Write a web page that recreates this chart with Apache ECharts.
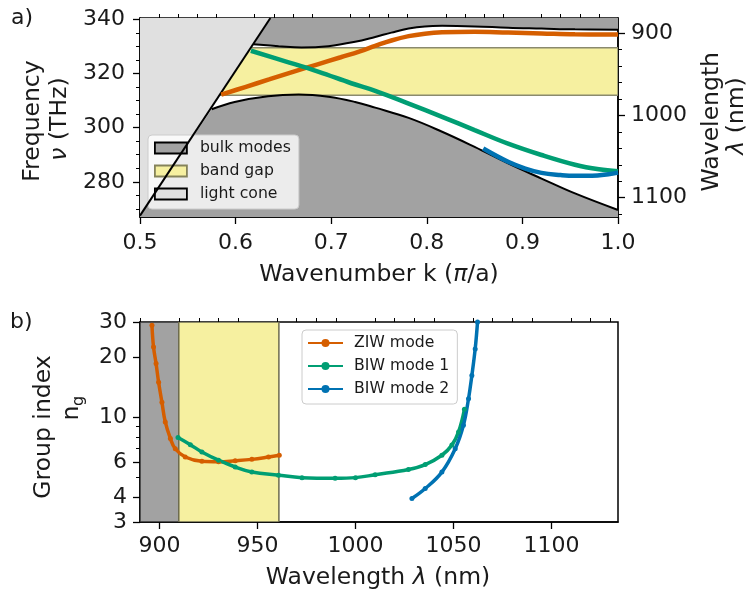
<!DOCTYPE html>
<html><head><meta charset="utf-8">
<script src="https://cdn.jsdelivr.net/npm/echarts@6/dist/echarts.min.js"></script>
<style>html,body{margin:0;padding:0;background:#fff}#c{width:749px;height:597px}</style>
</head><body><div id="c"></div>
<script>
// ---------- data: panel a (k in pi/a, frequency in THz) ----------
const lightLine = [[0.5, 267.5], [0.6364, 340.5]];
const upperBulkEdge = [[0.6185,330.8],[0.645,330.1],[0.669,329.6],[0.697,330.1],[0.725,331.7],[0.746,333.5],[0.763,335.1],[0.781,336.6],[0.798,337.4],[0.816,337.6],[0.85,337.4],[0.885,336.9],[0.92,336.6],[0.955,336.3],[1.0,336.2]];
const lowerBulkEdge = [[0.5,267.5],[0.575,306.8],[0.599,309.5],[0.634,311.6],[0.666,312.2],[0.697,311.4],[0.725,309.5],[0.746,307.4],[0.781,303.6],[0.816,298.5],[0.85,292.9],[0.885,286.8],[0.92,281.2],[0.955,275.7],[1.0,269.6]];
const bandGap = [312.0, 329.5];
const ziwBand = [[0.585,312.2],[0.61,315.0],[0.635,317.8],[0.66,320.6],[0.685,323.3],[0.71,326.0],[0.73,328.2],[0.746,330.2],[0.763,332.2],[0.781,333.8],[0.798,334.7],[0.816,335.2],[0.85,335.4],[0.885,335.1],[0.92,334.8],[0.955,334.5],[1.0,334.4]];
const biw1Band = [[0.616,328.4],[0.652,324.5],[0.687,320.6],[0.721,316.4],[0.746,313.6],[0.781,308.9],[0.816,304.0],[0.85,299.1],[0.885,294.1],[0.92,289.9],[0.955,286.3],[0.98,284.6],[1.0,283.9]];
const biw2Band = [[0.859,292.3],[0.885,287.4],[0.903,284.9],[0.92,283.3],[0.94,282.5],[0.955,282.2],[0.973,282.2],[0.99,282.8],[1.0,283.4]];
// ---------- data: panel b (wavelength nm, group index) ----------
const bulkRangeNm = [890, 909.8];
const gapRangeNm = [909.8, 960.9];
const ziwNg = [[896.1,28.9],[896.9,22.5],[898.2,18.6],[899.5,15.0],[901.2,11.9],[902.9,9.49],[905.5,7.85],[908,6.97],[913.1,6.34],[921.6,6.03],[930.1,6.0],[938.6,6.07],[947.1,6.17],[955.6,6.34],[961.1,6.47]];
const biw1Ng = [[909.4,7.94],[915.7,7.31],[921.6,6.72],[930.1,6.11],[938.6,5.65],[947.1,5.33],[960.7,5.14],[972.7,5.0],[989.6,4.96],[1000,5.0],[1010,5.17],[1027,5.49],[1035.6,5.81],[1044.1,6.47],[1049.2,7.27],[1052.6,8.46],[1055.6,10.98]];
const biw2Ng = [[1028.8,3.93],[1035.6,4.41],[1044.1,5.33],[1050.9,6.97],[1055.1,9.14],[1057.7,12.4],[1059.4,16.2],[1061.1,22.0],[1062.3,30]];
// ---------- ticks ----------
const kMajor = [0.5,0.6,0.7,0.8,0.9,1.0];
const kMinor = [0.52,0.54,0.56,0.58,0.62,0.64,0.66,0.68,0.72,0.74,0.76,0.78,0.82,0.84,0.86,0.88,0.92,0.94,0.96,0.98];
const nuMajor = [280,300,320,340];
const nuMinor = [270,275,285,290,295,305,310,315,325,330,335];
const wlTopMajor = [900,1000,1100];
const wlTopMinor = [920,940,960,980,1020,1040,1060,1080,1120];
const wlMajor = [900,950,1000,1050,1100];
const wlMinor = [890,910,920,930,940,960,970,980,990,1010,1020,1030,1040,1060,1070,1080,1090,1110,1120,1130];
const ngMajor = [3,4,6,10,20,30];
const ngMinor = [5,7,8,9];

const K = [0.5, 1.0], NU = [267, 340.5], WLT = [881.5, 1123.5], WL = [890, 1134], NG = [3, 30];
const FONT = 'DejaVu Sans', TXT = '#1a1a1a';
const C_ORANGE = '#d55e00', C_GREEN = '#009e73', C_BLUE = '#0072b2';
const C_BULK = '#a2a2a2', C_GAP = '#f6f0a0', C_CONE = '#e0e0e0';
const TF = '23.5px "DejaVu Sans"';

function poly(name, pts, fill, z, stroke, lw, xi, yi) {
  return { type: 'custom', name: name, xAxisIndex: xi, yAxisIndex: yi, z: z, clip: true, silent: true,
    data: [pts[0]],
    renderItem: function (params, api) {
      return { type: 'polygon', shape: { points: pts.map(function (p) { return api.coord(p); }) },
        style: { fill: fill, stroke: stroke || 'none', lineWidth: lw || 0 } };
    } };
}
function edge(pts, color, w, z, xi, yi) {
  return { type: 'line', data: pts, xAxisIndex: xi, yAxisIndex: yi, z: z, showSymbol: false, silent: true,
    smooth: 0.4, lineStyle: { color: color, width: w }, itemStyle: { color: color } };
}
function mode(name, pts, color, xi, yi, sym, w) {
  return { type: 'line', name: name, data: pts, xAxisIndex: xi, yAxisIndex: yi, z: 6, smooth: 0.4,
    showSymbol: sym, symbol: 'circle', symbolSize: 5, lineStyle: { color: color, width: w }, itemStyle: { color: color } };
}
const lab = { fontFamily: FONT, fontSize: 22, color: TXT, formatter: function (v) { return String(Math.round(v * 1000) / 1000); } };
function axis(o) {
  return Object.assign({ type: 'value', splitLine: { show: false },
    axisLine: { show: true, lineStyle: { color: '#000', width: 1.5 } } }, o);
}
function txt(x, y, s, rot, font, rich) {
  const st = { text: s, font: font || TF, fill: TXT, align: 'center', verticalAlign: 'middle', textAlign: 'center', textVerticalAlign: 'middle' };
  if (rich) st.rich = { i: { fontStyle: 'italic', font: 'italic ' + (font || TF), fill: TXT } };
  return { type: 'text', x: x, y: y, rotation: rot ? Math.PI / 2 : 0, style: st };
}

const topPolys = [
  [[upperBulkEdge[0][0], NU[1]]].concat(upperBulkEdge).concat([[K[1], NU[1]]]),
  lowerBulkEdge.concat([[K[1], NU[0]], [K[0], NU[0]]]),
  [[K[0], bandGap[0]], [K[1], bandGap[0]], [K[1], bandGap[1]], [K[0], bandGap[1]]],
  lightLine.concat([[K[0], NU[1]]])
];

const option = {
  animation: false,
  backgroundColor: '#fff',
  grid: [
    { left: 140, top: 18, width: 478, height: 199, show: true, borderColor: '#000', borderWidth: 1.5, backgroundColor: 'transparent' },
    { left: 140, top: 322, width: 478, height: 200, show: true, borderColor: '#000', borderWidth: 1.5, backgroundColor: 'transparent' }
  ],
  xAxis: [
    axis({ gridIndex: 0, min: K[0], max: K[1], axisTick: { customValues: kMajor, length: 7, lineStyle: { width: 1.3, color: '#000' } },
      axisLabel: Object.assign({}, lab, { customValues: kMajor, margin: 15, formatter: function (v) { return v.toFixed(1); } }) }),
    axis({ gridIndex: 0, min: K[0], max: K[1], axisLine: { show: false }, axisLabel: { show: false },
      axisTick: { customValues: kMinor, length: 4, lineStyle: { width: 1, color: '#000' } } }),
    axis({ gridIndex: 1, min: WL[0], max: WL[1], axisTick: { customValues: wlMajor, length: 7, lineStyle: { width: 1.3, color: '#000' } },
      axisLabel: Object.assign({}, lab, { customValues: wlMajor, margin: 13 }) }),
    axis({ gridIndex: 1, min: WL[0], max: WL[1], axisLine: { show: false }, axisLabel: { show: false },
      axisTick: { customValues: wlMinor, length: 4, lineStyle: { width: 1, color: '#000' } } })
  ],
  yAxis: [
    axis({ gridIndex: 0, min: NU[0], max: NU[1], position: 'left', axisTick: { customValues: nuMajor, length: 7, lineStyle: { width: 1.3, color: '#000' } },
      axisLabel: Object.assign({}, lab, { customValues: nuMajor, margin: 15 }) }),
    axis({ gridIndex: 0, min: NU[0], max: NU[1], position: 'left', axisLine: { show: false }, axisLabel: { show: false },
      axisTick: { customValues: nuMinor, length: 4, lineStyle: { width: 1, color: '#000' } } }),
    axis({ gridIndex: 0, min: WLT[0], max: WLT[1], inverse: true, position: 'right', axisTick: { customValues: wlTopMajor, length: 7, lineStyle: { width: 1.3, color: '#000' } },
      axisLabel: Object.assign({}, lab, { customValues: wlTopMajor, margin: 13 }) }),
    axis({ gridIndex: 0, min: WLT[0], max: WLT[1], inverse: true, position: 'right', axisLine: { show: false }, axisLabel: { show: false },
      axisTick: { customValues: wlTopMinor, length: 4, lineStyle: { width: 1, color: '#000' } } }),
    axis({ type: 'log', logBase: 10, gridIndex: 1, min: NG[0], max: NG[1], position: 'left', axisTick: { customValues: ngMajor, length: 7, lineStyle: { width: 1.3, color: '#000' } },
      axisLabel: Object.assign({}, lab, { customValues: ngMajor, margin: 13 }) }),
    axis({ type: 'log', logBase: 10, gridIndex: 1, min: NG[0], max: NG[1], position: 'left', axisLine: { show: false }, axisLabel: { show: false },
      axisTick: { customValues: ngMinor, length: 4, lineStyle: { width: 1, color: '#000' } } })
  ],
  legend: [
    { orient: 'vertical', left: 148, top: 135, padding: [4, 8, 6, 6], itemGap: 5, itemWidth: 32, itemHeight: 11,
      backgroundColor: 'rgba(255,255,255,0.8)', borderColor: '#cccccc', borderWidth: 1, borderRadius: 4,
      textStyle: { fontFamily: FONT, fontSize: 15.7, color: TXT, lineHeight: 18, padding: [0, 0, 0, 8] },
      data: [
        { name: 'bulk modes', icon: 'rect', itemStyle: { color: C_BULK, borderColor: '#000', borderWidth: 1.8 } },
        { name: 'band gap', icon: 'rect', itemStyle: { color: C_GAP, borderColor: '#85835a', borderWidth: 1.8 } },
        { name: 'light cone', icon: 'rect', itemStyle: { color: C_CONE, borderColor: '#000', borderWidth: 1.8 } }
      ] },
    { orient: 'vertical', left: 302, top: 330, padding: [4, 8, 6, 5], itemGap: 5, itemWidth: 35, itemHeight: 10,
      backgroundColor: 'rgba(255,255,255,0.8)', borderColor: '#cccccc', borderWidth: 1, borderRadius: 4,
      textStyle: { fontFamily: FONT, fontSize: 15.7, color: TXT, lineHeight: 18, padding: [0, 0, 0, 6] },
      data: ['ZIW mode', 'BIW mode 1', 'BIW mode 2'] }
  ],
  graphic: [
    { type: 'text', left: 11, top: 7, style: { text: 'a)', font: '22px "DejaVu Sans"', fill: TXT } },
    { type: 'text', left: 10, top: 311, style: { text: 'b)', font: '22px "DejaVu Sans"', fill: TXT } },
    txt(32.5, 121, 'Frequency', true),
    txt(60, 119, '{i|ν} (THz)', true, null, true),
    txt(711.7, 121.7, 'Wavelength', true),
    txt(736.7, 116, '{i|λ} (nm)', true, null, true),
    txt(379, 275, 'Wavenumber k ({i|π}/a)', false, null, true),
    txt(44, 427, 'Group index', true),
    txt(72, 413, 'n', true),
    txt(79, 401, 'g', true, '16px "DejaVu Sans"'),
    txt(378, 578, 'Wavelength {i|λ} (nm)', false, null, true)
  ],
  series: [
    poly('bulk modes', topPolys[0], C_BULK, 1, null, 0, 0, 0),
    poly('bulk modes', topPolys[1], C_BULK, 1, null, 0, 0, 0),
    poly('band gap', topPolys[2], C_GAP, 2, '#8a8a6e', 1.5, 0, 0),
    poly('light cone', topPolys[3], C_CONE, 3, null, 0, 0, 0),
    edge(upperBulkEdge, '#000', 2, 4, 0, 0),
    edge(lowerBulkEdge.slice(1), '#000', 2, 4, 0, 0),
    edge(lightLine, '#000', 2, 4, 0, 0),
    mode('ZIW mode', ziwBand, C_ORANGE, 0, 0, false, 4.5),
    mode('BIW mode 1', biw1Band, C_GREEN, 0, 0, false, 4.5),
    mode('BIW mode 2', biw2Band, C_BLUE, 0, 0, false, 4.5),
    poly('bulk modes', [[bulkRangeNm[0], NG[0]], [bulkRangeNm[1], NG[0]], [bulkRangeNm[1], NG[1]], [bulkRangeNm[0], NG[1]]], C_BULK, 1, '#333', 1.5, 2, 4),
    poly('band gap', [[gapRangeNm[0], NG[0]], [gapRangeNm[1], NG[0]], [gapRangeNm[1], NG[1]], [gapRangeNm[0], NG[1]]], C_GAP, 2, '#6e6c50', 1.5, 2, 4),
    mode('ZIW mode', ziwNg, C_ORANGE, 2, 4, true, 3.5),
    mode('BIW mode 1', biw1Ng, C_GREEN, 2, 4, true, 3.5),
    mode('BIW mode 2', biw2Ng, C_BLUE, 2, 4, true, 3.5)
  ]
};
const chart = echarts.init(document.getElementById('c'), null, { renderer: 'canvas' });
chart.setOption(option);
</script></body></html>
